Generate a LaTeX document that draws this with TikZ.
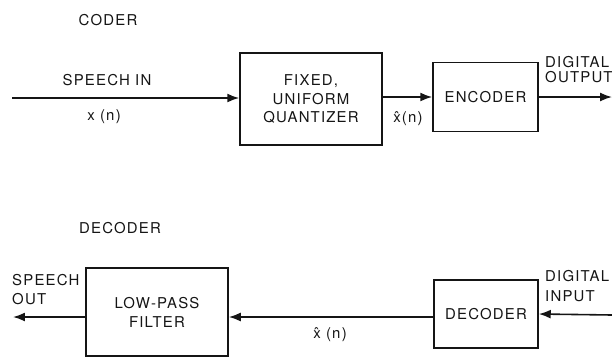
\documentclass[tikz,border=0pt]{standalone}
\usepackage{fontspec}
\setmainfont[LetterSpace=8]{TeX Gyre Heros}
\usetikzlibrary{positioning,arrows.meta}
\definecolor{pcmLine}{HTML}{151515}
\tikzset{
  pcm block/.style={
    rectangle, draw=pcmLine, line width=1.6pt,
    font=\fontsize{15}{19}\selectfont, text=pcmLine,
    align=center, inner sep=0pt,
  },
  pcm label/.style={
    font=\fontsize{15}{17}\selectfont, text=pcmLine,
    inner sep=0pt,
  },
  pcm arrow/.style={
    -{Latex[length=12pt, width=9pt]},
    line width=1.6pt, color=pcmLine,
  },
}

\begin{document}
\begin{tikzpicture}[x=1bp, y=-1bp]
\useasboundingbox (0,0) rectangle (612,358);

% --- CODER ---
\node[pcm label] (coderT) at (108,20) {CODER};
\node[pcm block, minimum width=142bp, minimum height=92bp] (quant) at (311,99)
  {FIXED,\\UNIFORM\\QUANTIZER};
\node[pcm block, minimum width=105bp, minimum height=69bp] (enc) at (485.5,97)
  {ENCODER};
\coordinate (spIn) at (12,98);
\coordinate (digOut) at (612,97);

\draw[pcm arrow] (spIn) -- (spIn -| quant.west);
\draw[pcm arrow] (quant.east |- enc.west) -- (enc.west);
\draw[pcm arrow] (enc.east) -- (digOut);

\node[pcm label] (spInT) at (107,80) {SPEECH IN};
\node[pcm label] (xnT) at (104,117) {x (n)};
\node[pcm label] (xqT) at (408,119) {\^{x}(n)};
\node[pcm label, align=left, anchor=west, font=\fontsize{15}{15}\selectfont]
  (digOutT) at (545,70) {DIGITAL\\OUTPUT};

% --- DECODER ---
\node[pcm label] (decoderT) at (120,228) {DECODER};
\node[pcm block, minimum width=142bp, minimum height=88bp] (lpf) at (157,312)
  {LOW-PASS\\FILTER};
\node[pcm block, minimum width=104bp, minimum height=68bp] (dec) at (486,314)
  {DECODER};
\coordinate (digIn) at (612,315);
\coordinate (spOut) at (13,317);

\draw[pcm arrow] (digIn) -- (dec.east);
\draw[pcm arrow] (dec.west |- 0,317) -- (lpf.east |- 0,317);
\draw[pcm arrow] (lpf.west |- spOut) -- (spOut);

\node[pcm label] (xqdT) at (330,335) {\^{x} (n)};
\node[pcm label, align=left, anchor=west, font=\fontsize{15}{19}\selectfont]
  (spOutT) at (12,290) {SPEECH\\OUT};
\node[pcm label, align=left, anchor=west, font=\fontsize{15}{20}\selectfont]
  (digInT) at (545,286) {DIGITAL\\INPUT};

\end{tikzpicture}
\end{document}
